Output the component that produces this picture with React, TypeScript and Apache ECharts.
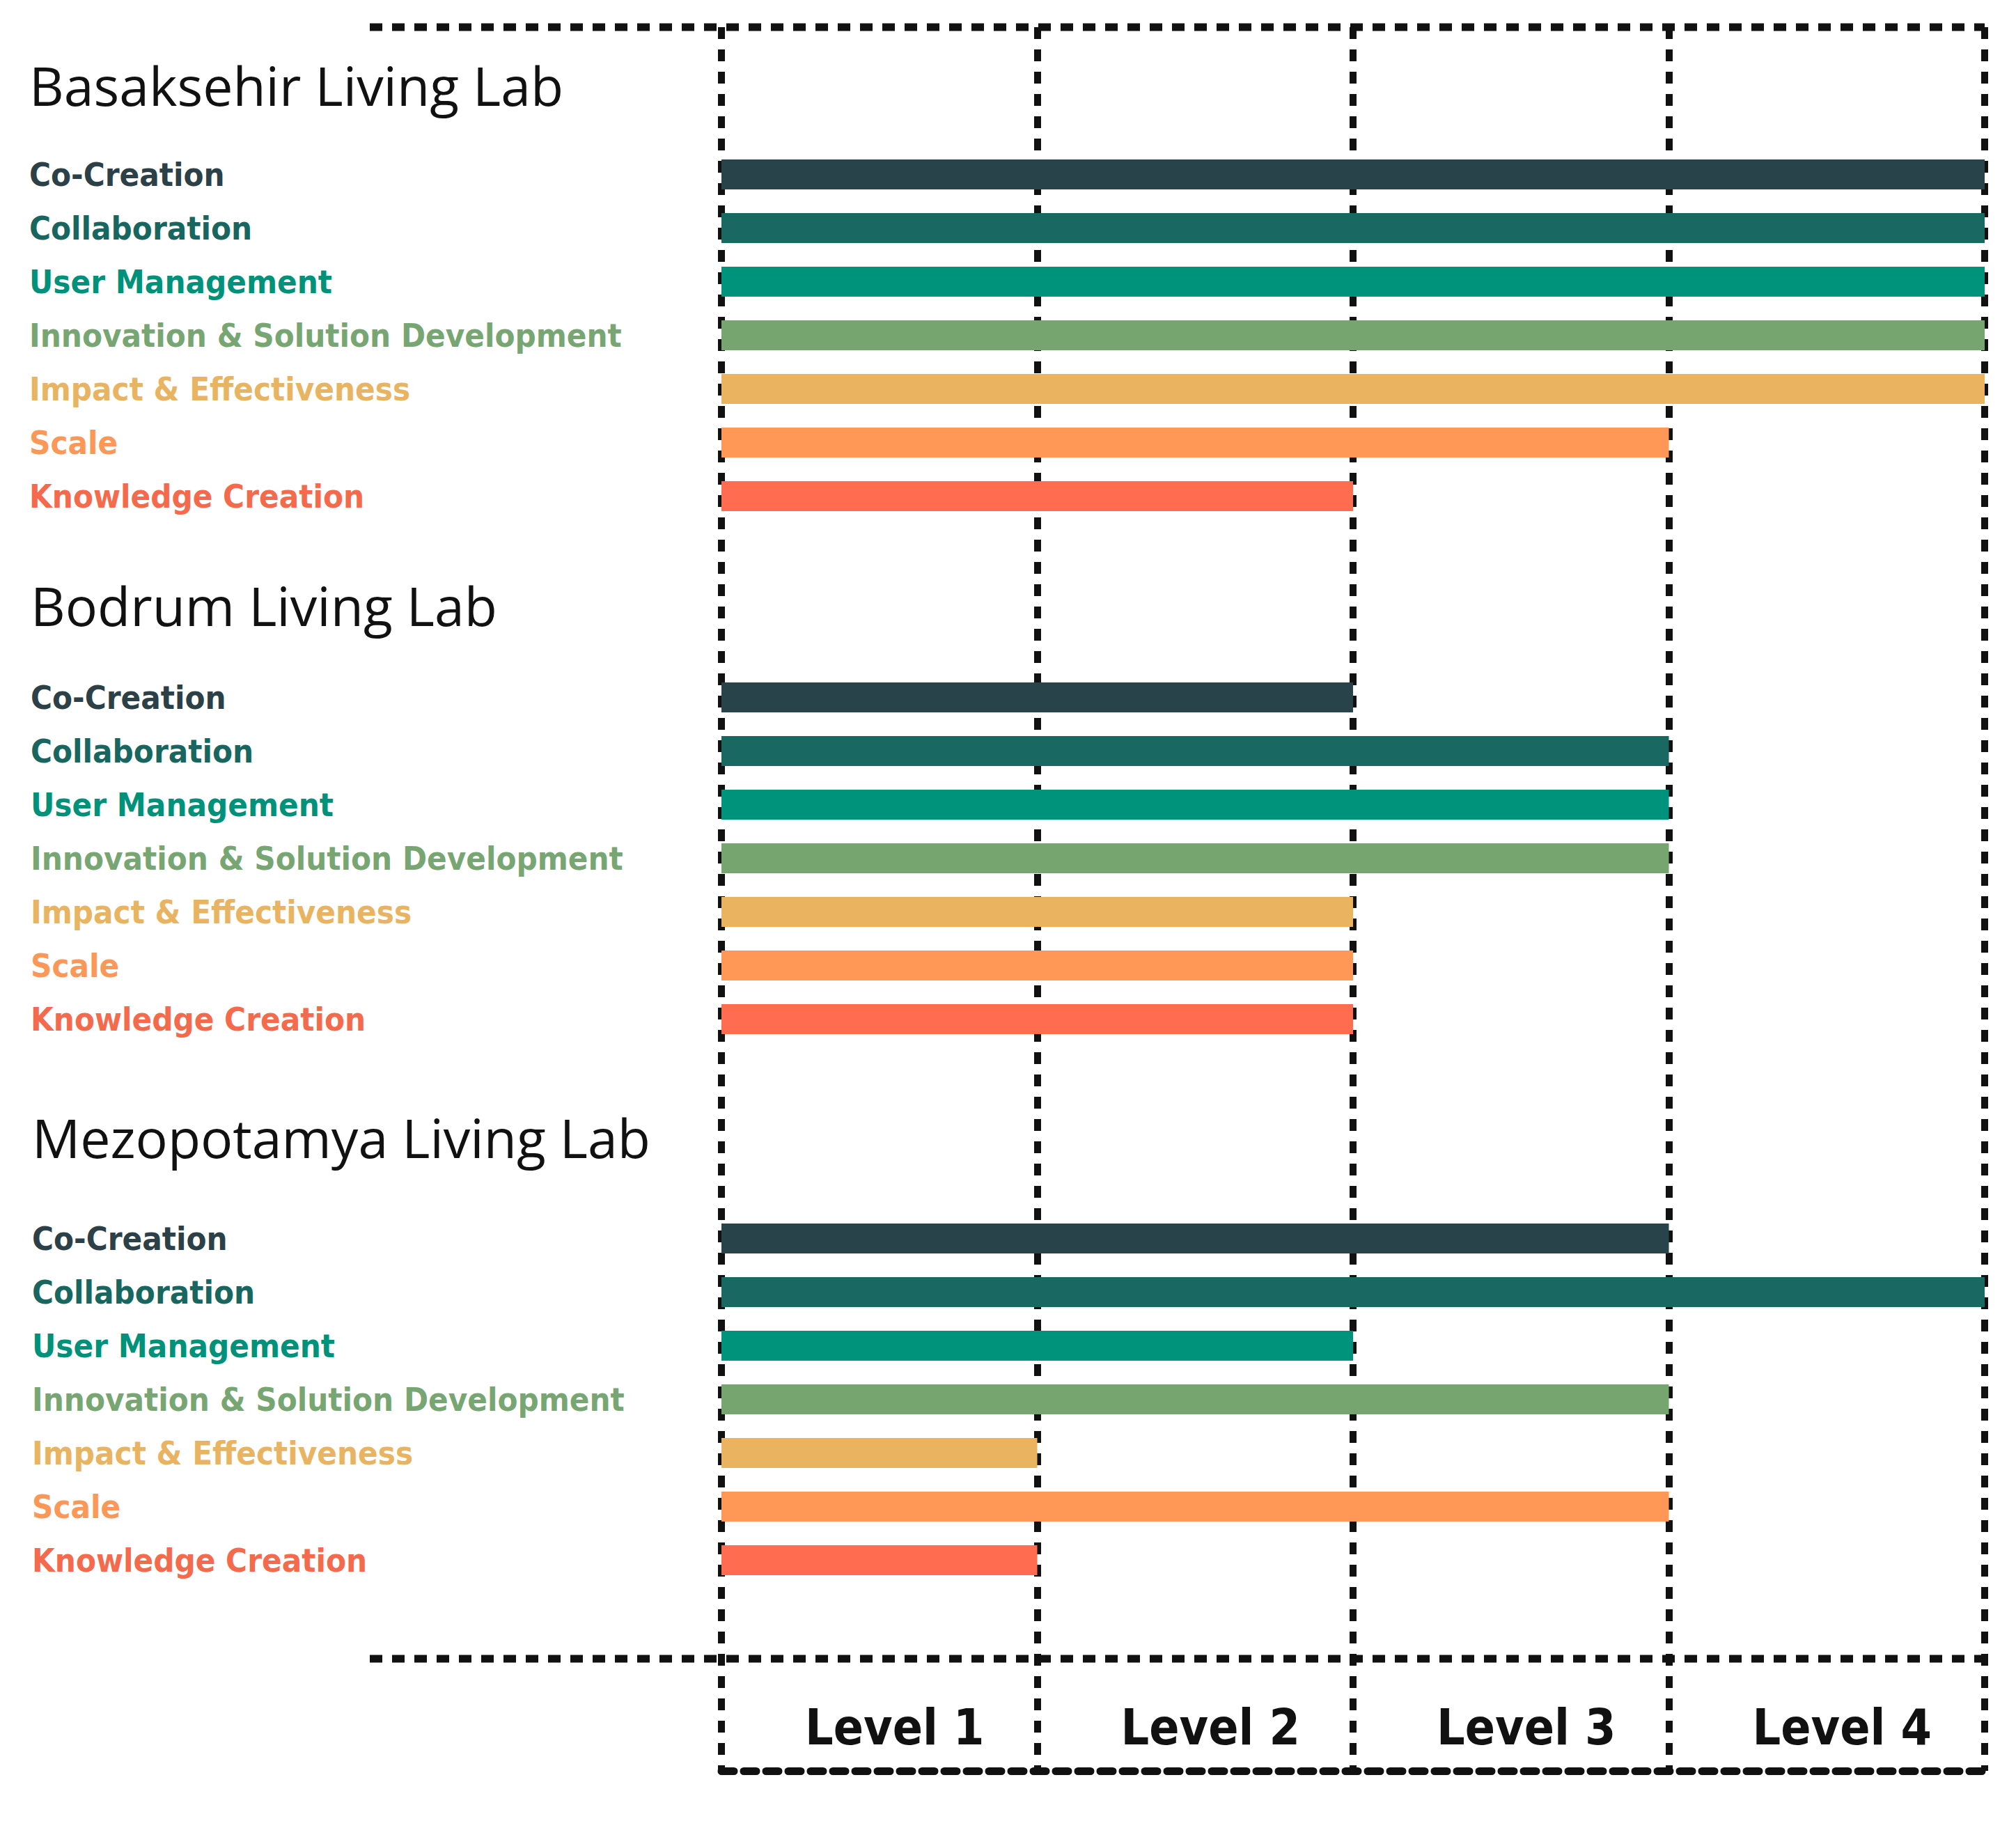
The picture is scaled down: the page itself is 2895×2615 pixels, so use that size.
import React, { useEffect, useRef } from "react";
import * as echarts from "echarts";

const categories = [
  "Co-Creation",
  "Collaboration",
  "User Management",
  "Innovation & Solution Development",
  "Impact & Effectiveness",
  "Scale",
  "Knowledge Creation",
];
const labNames = ["Basaksehir Living Lab", "Bodrum Living Lab", "Mezopotamya Living Lab"];
const basaksehirLevels = [4, 4, 4, 4, 4, 3, 2];
const bodrumLevels = [2, 3, 3, 3, 2, 2, 2];
const mezopotamyaLevels = [3, 4, 2, 3, 1, 3, 1];
const levelLabels = ["Level 1", "Level 2", "Level 3", "Level 4"];

const barColors = ["#29434a", "#1a6862", "#00937c", "#77a570", "#e9b360", "#ff9757", "#ff6c4f"];
const labelColors = ["#2b4047", "#17665f", "#00917a", "#78a673", "#e8b462", "#fb9858", "#f46a4c"];

const NARROW = "'DejaVu Sans Condensed', 'Liberation Sans Narrow', sans-serif";
const TITLE_FONT = "'Open Sans', 'Noto Sans', sans-serif";

export default function App() {
  const ref = useRef<HTMLDivElement>(null);
  useEffect(() => {
    if (!ref.current) return;
    const chart = echarts.init(ref.current, null, { renderer: "svg" });
    const labData = [basaksehirLevels, bodrumLevels, mezopotamyaLevels];
    const gridLeft = 1036;
    const gridWidth = 1814;
    const rowH = 77;
    const groupTops = [212, 963, 1740];
    const titleCenters = [122, 869, 1633];
    const titleLefts = [42, 44, 46];
    const titleSize = 77;

    const dash = { color: "#111", width: 10, type: [17, 15] as any };

    const grids: any[] = [
      { left: gridLeft, top: 39, width: gridWidth, height: 2543 - 39 },
    ];
    const xAxes: any[] = [
      {
        gridIndex: 0,
        type: "value",
        min: 0,
        max: 4,
        interval: 1,
        axisLabel: { show: false },
        axisLine: { show: false },
        axisTick: { show: false },
        splitLine: { show: true, lineStyle: dash },
      },
    ];
    const yAxes: any[] = [{ gridIndex: 0, type: "value", show: false }];
    const series: any[] = [];

    labData.forEach((vals, i) => {
      const gi = i + 1;
      grids.push({ left: gridLeft, top: groupTops[i], width: gridWidth, height: rowH * categories.length });
      xAxes.push({ gridIndex: gi, type: "value", min: 0, max: 4, show: false });
      yAxes.push({
        gridIndex: gi,
        type: "category",
        data: categories,
        inverse: true,
        axisLine: { show: false },
        axisTick: { show: false },
        splitLine: { show: false },
        axisLabel: {
          margin: gridLeft - titleLefts[i],
          align: "left",
          fontSize: 47,
          fontWeight: "bold",
          fontFamily: NARROW,
          color: (_v: any, idx: number) => labelColors[idx],
        },
      });
      series.push({
        type: "bar",
        xAxisIndex: gi,
        yAxisIndex: gi,
        barWidth: 43,
        data: vals.map((v, k) => ({ value: v, itemStyle: { color: barColors[k] } })),
      });
    });

    grids.push({ left: gridLeft, top: 2382, width: gridWidth, height: 2543 - 2382 });
    xAxes.push({
      gridIndex: 4,
      type: "category",
      data: levelLabels,
      position: "bottom",
      axisLine: { show: true, lineStyle: { color: "#111", width: 11, type: [18, 14] } },
      axisTick: { show: false },
      splitLine: { show: false },
      axisLabel: {
        inside: true,
        margin: 63,
        verticalAlign: "middle",
        fontSize: 71,
        fontWeight: "bold",
        fontFamily: NARROW,
        color: "#111",
        padding: [0, 0, 0, 44],
      },
    });
    yAxes.push({ gridIndex: 4, type: "value", show: false });

    const titles = labNames.map((name, i) => ({
      text: name,
      left: titleLefts[i],
      top: titleCenters[i] - titleSize / 2,
      padding: 0,
      textStyle: {
        fontSize: titleSize,
        lineHeight: titleSize,
        fontWeight: "normal",
        fontFamily: TITLE_FONT,
        color: "#111",
      },
    }));

    const hLine = (x1: number, x2: number, y: number) => ({
      type: "line",
      shape: { x1, y1: y, x2, y2: y },
      style: { stroke: "#111", lineWidth: 11, lineDash: [18, 14] },
      z: 10,
    });

    chart.setOption({
      animation: false,
      backgroundColor: "#ffffff",
      title: titles,
      grid: grids,
      xAxis: xAxes,
      yAxis: yAxes,
      series,
      graphic: [hLine(531, 2850, 39), hLine(531, 2850, 2382)],
    });
    return () => chart.dispose();
  }, []);
  return (
    <div
      ref={ref}
      style={{ position: "absolute", left: 0, top: 0, width: 2895, height: 2615 }}
    />
  );
}
